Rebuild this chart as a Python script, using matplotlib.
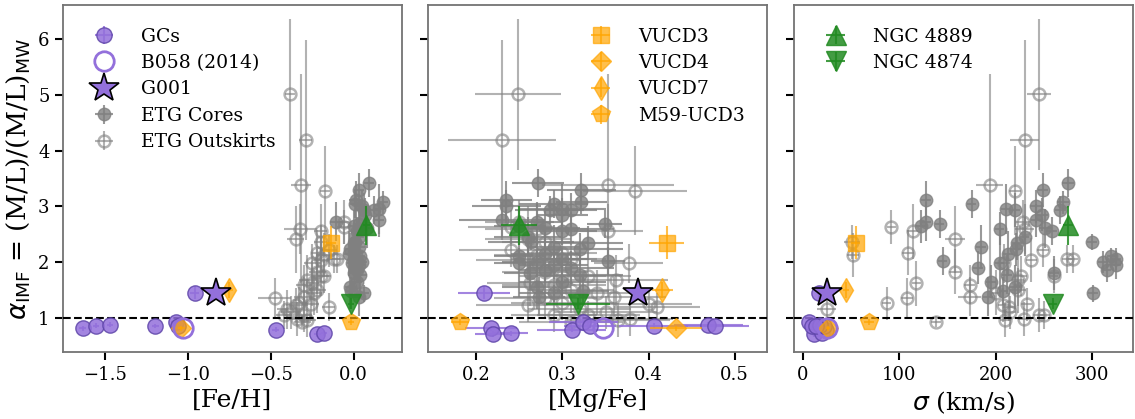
import numpy as np
import matplotlib.pyplot as plt

plt.rcParams['font.family'] = ['DejaVu Serif', 'Liberation Serif']
plt.rcParams['mathtext.fontset'] = 'dejavusans'

# --- globular clusters (M31) ---
gc_alpha = [1.45, 0.81, 0.71, 0.72, 0.79, 0.92, 0.85, 0.86, 0.88, 0.85]
gc_alpha_err = [0.12, 0.05, 0.05, 0.05, 0.05, 0.05, 0.04, 0.05, 0.05, 0.04]
gc_feh = [-0.96, -1.635, -0.22, -0.18, -0.47, -1.07, -1.196, -1.555, -1.47, -1.06]
gc_feh_err = [0.03, 0.02, 0.02, 0.02, 0.02, 0.03, 0.02, 0.02, 0.02, 0.02]
gc_mgfe = [0.209, 0.217, 0.219, 0.240, 0.311, 0.324, 0.332, 0.406, 0.469, 0.477]
gc_mgfe_err = [0.03, 0.03, 0.02, 0.02, 0.04, 0.04, 0.03, 0.04, 0.04, 0.04]
gc_sigma = [17, 15, 12, 20, 24, 7, 10, 22, 18, 14]
gc_sigma_err = [2, 2, 2, 2, 2, 2, 2, 2, 2, 2]

# --- B058 and G001 ---
b058_alpha, b058_feh, b058_mgfe, b058_sigma = 0.81, -1.03, 0.347, 25
g001_alpha, g001_feh, g001_mgfe, g001_sigma = 1.44, -0.83, 0.388, 25

# --- UCDs ---
ucd_names = ['VUCD3', 'VUCD4', 'VUCD7', 'M59-UCD3']
ucd_markers = ['s', 'D', 'd', 'p']
ucd_alpha = [2.35, 0.81, 1.50, 0.93]
ucd_alpha_err = [0.30, 0.05, 0.15, 0.05]
ucd_feh = [-0.136, -1.04, -0.75, -0.016]
ucd_feh_err = [0.03, 0.02, 0.02, 0.02]
ucd_mgfe = [0.421, 0.432, 0.416, 0.181]
ucd_mgfe_err = [0.020, 0.030, 0.012, 0.010]
ucd_sigma = [55, 26, 45, 69]
ucd_sigma_err = [5, 2, 3, 5]

# --- brightest cluster galaxies ---
bcg_names = ['NGC 4889', 'NGC 4874']
bcg_markers = ['^', 'v']
bcg_alpha = [2.66, 1.25]
bcg_alpha_err = [0.35, 0.10]
bcg_feh = [0.075, -0.016]
bcg_feh_err = [0.02, 0.02]
bcg_mgfe = [0.250, 0.318]
bcg_mgfe_err = [0.021, 0.037]
bcg_sigma = [275, 259]
bcg_sigma_err = [5, 5]

# --- ETG cores ---
core_alpha = [3.42, 3.29, 3.11, 3.07, 3.04, 3.00, 2.95, 2.93, 2.93, 2.75, 2.72, 2.69, 2.64,
              2.61, 2.60, 2.55, 2.36, 2.34, 2.27, 2.23, 2.10, 2.05, 2.02, 2.00, 1.98, 1.95,
              1.90, 1.85, 1.80, 1.77, 1.55, 1.48, 1.44, 1.38, 2.45, 2.85, 2.15, 1.65]
core_alpha_err = [0.25, 0.30, 0.35, 0.20, 0.25, 0.30, 0.45, 0.30, 0.25, 0.30, 0.35, 0.25, 0.30,
                  0.35, 0.30, 0.25, 0.15, 0.30, 0.40, 0.30, 0.15, 0.20, 0.25, 0.20, 0.60, 0.25,
                  0.30, 0.20, 0.30, 0.35, 0.40, 0.25, 0.15, 0.35, 0.35, 0.30, 0.40, 0.30]
core_feh = [0.094, 0.034, 0.014, 0.175, 0.010, 0.050, 0.155, 0.060, 0.120, 0.155, -0.106, 0.030,
            0.000, 0.080, 0.040, 0.020, 0.010, 0.000, 0.030, -0.020, 0.040, 0.000, 0.020, 0.050,
            -0.010, 0.030, 0.010, 0.020, 0.000, 0.040, -0.020, -0.016, 0.064, 0.030, 0.030,
            0.070, -0.030, 0.020]
core_feh_err = [0.03, 0.03, 0.04, 0.03, 0.03, 0.03, 0.04, 0.03, 0.03, 0.03, 0.04, 0.03, 0.03,
                0.03, 0.04, 0.03, 0.03, 0.03, 0.04, 0.03, 0.03, 0.03, 0.03, 0.03, 0.03, 0.04,
                0.03, 0.03, 0.03, 0.04, 0.03, 0.03, 0.03, 0.03, 0.03, 0.03, 0.03, 0.03]
core_mgfe = [0.272, 0.322, 0.235, 0.322, 0.290, 0.235, 0.300, 0.310, 0.285, 0.230, 0.270, 0.349,
             0.250, 0.280, 0.310, 0.300, 0.264, 0.330, 0.290, 0.320, 0.250, 0.300, 0.353, 0.270,
             0.250, 0.290, 0.310, 0.280, 0.262, 0.320, 0.270, 0.324, 0.290, 0.273, 0.260, 0.300,
             0.280, 0.300]
core_mgfe_err = [0.03, 0.04, 0.03, 0.03, 0.04, 0.04, 0.05, 0.03, 0.04, 0.05, 0.03, 0.02, 0.03,
                 0.04, 0.05, 0.04, 0.05, 0.04, 0.03, 0.05, 0.03, 0.03, 0.02, 0.04, 0.03, 0.04,
                 0.05, 0.03, 0.03, 0.05, 0.04, 0.03, 0.04, 0.03, 0.04, 0.03, 0.04, 0.05]
core_sigma = [275, 249, 128, 270, 175, 242, 211, 220, 267, 242, 128, 142, 123, 251, 204, 258,
              300, 222, 185, 221, 320, 325, 145, 311, 204, 325, 182, 315, 260, 212, 220, 208,
              301, 192, 230, 248, 213, 195]
core_sigma_err = [6, 5, 5, 6, 5, 6, 5, 5, 6, 5, 5, 5, 6, 6, 5, 6, 5, 5, 5, 6, 5, 5, 5, 5, 5,
                  5, 5, 5, 6, 5, 6, 5, 5, 5, 5, 6, 5, 5]

# --- ETG outskirts ---
out_alpha = [5.01, 4.19, 3.38, 3.28, 2.63, 2.72, 2.59, 2.55, 2.41, 2.36, 2.21, 2.17, 2.13,
             2.06, 2.06, 2.04, 1.98, 1.83, 1.75, 1.67, 1.62, 1.59, 1.49, 1.38, 1.36, 1.26,
             1.24, 1.23, 1.19, 1.15, 1.10, 1.05, 1.05, 0.98, 0.96, 0.93, 1.45, 1.75]
out_alpha_err = [1.35, 1.80, 2.00, 0.80, 0.30, 0.40, 0.45, 0.50, 0.60, 0.30, 0.30, 0.40, 0.40,
                 0.25, 0.25, 0.40, 0.35, 0.40, 0.30, 0.45, 0.40, 0.35, 0.40, 0.35, 0.35, 0.30,
                 0.30, 0.30, 0.25, 0.35, 0.30, 0.30, 0.25, 0.30, 0.30, 0.10, 0.40, 0.35]
out_feh = [-0.385, -0.290, -0.317, -0.176, -0.060, -0.060, -0.322, -0.200, -0.350, -0.200,
           -0.150, -0.220, -0.180, -0.100, -0.120, -0.200, -0.250, -0.220, -0.180, -0.280,
           -0.250, -0.300, -0.220, -0.300, -0.477, -0.330, -0.260, -0.350, -0.150, -0.400,
           -0.380, -0.300, -0.420, -0.340, -0.280, -0.310, -0.240, -0.200]
out_feh_err = [0.03, 0.04, 0.06, 0.03, 0.04, 0.03, 0.10, 0.04, 0.05, 0.04, 0.05, 0.04, 0.05,
               0.04, 0.04, 0.05, 0.05, 0.05, 0.04, 0.05, 0.04, 0.05, 0.05, 0.06, 0.10, 0.05,
               0.05, 0.06, 0.04, 0.06, 0.06, 0.05, 0.05, 0.05, 0.05, 0.05, 0.05, 0.05]
out_mgfe = [0.248, 0.230, 0.353, 0.384, 0.240, 0.250, 0.270, 0.353, 0.260, 0.280, 0.240, 0.300,
            0.270, 0.290, 0.310, 0.260, 0.377, 0.280, 0.330, 0.362, 0.262, 0.290, 0.310, 0.360,
            0.280, 0.300, 0.400, 0.260, 0.410, 0.320, 0.350, 0.290, 0.330, 0.378, 0.365, 0.310,
            0.340, 0.300]
out_mgfe_err = [0.050, 0.063, 0.077, 0.060, 0.050, 0.040, 0.060, 0.040, 0.050, 0.050, 0.060,
                0.040, 0.050, 0.050, 0.040, 0.060, 0.040, 0.050, 0.050, 0.060, 0.050, 0.060,
                0.050, 0.060, 0.060, 0.060, 0.050, 0.060, 0.050, 0.060, 0.060, 0.050, 0.060,
                0.050, 0.060, 0.060, 0.050, 0.050]
out_sigma = [245, 230, 194, 220, 92, 228, 230, 114, 158, 51, 249, 109, 52, 274, 280, 237, 209,
             158, 260, 223, 118, 173, 223, 173, 108, 87, 232, 208, 214, 25, 215, 245, 250, 229,
             210, 138, 200, 226]
out_sigma_err = [12, 15, 14, 6, 5, 8, 10, 6, 10, 8, 6, 6, 6, 5, 5, 6, 6, 6, 5, 6, 5, 6, 8, 12,
                 6, 5, 6, 6, 6, 10, 6, 6, 6, 6, 6, 5, 6, 6]

xkeys = ['feh', 'mgfe', 'sigma']
xlabels = ['[Fe/H]', '[Mg/Fe]', r'$\sigma$ (km/s)']
xlims = [(-1.755, 0.289), (0.1445, 0.538), (-8.6, 342.6)]
xticks = [[-1.5, -1.0, -0.5, 0.0], [0.2, 0.3, 0.4, 0.5], [0, 100, 200, 300]]

data = {
    'gc': {'feh': (gc_feh, gc_feh_err), 'mgfe': (gc_mgfe, gc_mgfe_err), 'sigma': (gc_sigma, gc_sigma_err)},
    'core': {'feh': (core_feh, core_feh_err), 'mgfe': (core_mgfe, core_mgfe_err), 'sigma': (core_sigma, core_sigma_err)},
    'out': {'feh': (out_feh, out_feh_err), 'mgfe': (out_mgfe, out_mgfe_err), 'sigma': (out_sigma, out_sigma_err)},
    'ucd': {'feh': (ucd_feh, ucd_feh_err), 'mgfe': (ucd_mgfe, ucd_mgfe_err), 'sigma': (ucd_sigma, ucd_sigma_err)},
    'bcg': {'feh': (bcg_feh, bcg_feh_err), 'mgfe': (bcg_mgfe, bcg_mgfe_err), 'sigma': (bcg_sigma, bcg_sigma_err)},
}
single = {'feh': (b058_feh, g001_feh), 'mgfe': (b058_mgfe, g001_mgfe), 'sigma': (b058_sigma, g001_sigma)}

purple = 'mediumpurple'
orange = 'orange'
green = 'forestgreen'

fig, axes = plt.subplots(1, 3, figsize=(11.35, 4.19), dpi=100, sharey=True)
fig.subplots_adjust(left=0.0552, right=0.9985, bottom=0.159, top=0.988, wspace=0.079)

for i, ax in enumerate(axes):
    k = xkeys[i]
    x, xe = data['core'][k]
    ax.errorbar(x, core_alpha, xerr=xe, yerr=core_alpha_err, fmt='o', color='gray', ms=9,
                alpha=0.8, elinewidth=1.5, label='ETG Cores', zorder=2)
    x, xe = data['out'][k]
    ax.errorbar(x, out_alpha, xerr=xe, yerr=out_alpha_err, fmt='o', color='gray', mfc='none',
                mec='gray', mew=1.8, ms=8.5, alpha=0.6, elinewidth=1.5, label='ETG Outskirts', zorder=2)
    x, xe = data['gc'][k]
    ax.errorbar(x, gc_alpha, xerr=xe, yerr=gc_alpha_err, fmt='o', color=purple, mec='#5e45a8',
                ms=11, alpha=0.85, elinewidth=1.5, label='GCs', zorder=4)
    for j in range(len(ucd_names)):
        x, xe = data['ucd'][k]
        ax.errorbar(x[j], ucd_alpha[j], xerr=xe[j], yerr=ucd_alpha_err[j], fmt=ucd_markers[j],
                    color=orange, ms=[12, 10, 12, 13][j], alpha=0.7, elinewidth=1.5,
                    label=ucd_names[j], zorder=5)
    for j in range(len(bcg_names)):
        x, xe = data['bcg'][k]
        ax.errorbar(x[j], bcg_alpha[j], xerr=xe[j], yerr=bcg_alpha_err[j], fmt=bcg_markers[j],
                    color=green, ms=15, alpha=0.85, elinewidth=1.5, label=bcg_names[j], zorder=5)
    bx, gx = single[k]
    ax.plot(bx, b058_alpha, 'o', mfc='none', mec=purple, mew=2, ms=14, label='B058 (2014)', zorder=6)
    ax.plot(gx, g001_alpha, '*', mfc=purple, mec='black', mew=1.2, ms=22, label='G001', zorder=6)
    ax.axhline(1, color='black', ls='--', lw=1.5, zorder=3)

    ax.set_xlim(*xlims[i])
    ax.set_xticks(xticks[i])
    ax.set_xlabel(xlabels[i], fontsize=18)
    ax.tick_params(labelsize=13, length=6, width=1.5, direction='out')
    for sp in ax.spines.values():
        sp.set_color('0.45')
        sp.set_linewidth(1.3)

axes[0].set_ylim(0.38, 6.61)
axes[0].set_yticks([1, 2, 3, 4, 5, 6])
axes[0].set_ylabel(r'$\alpha_{\rm IMF}$ = (M/L)/(M/L)$_{\rm MW}$', fontsize=19)

def pick(ax, names):
    h, l = ax.get_legend_handles_labels()
    d = dict(zip(l, h))
    return [d[n] for n in names], names

leg_kw = dict(frameon=False, fontsize=13.5, handletextpad=1.0, borderaxespad=0.8, labelspacing=0.45)
h, l = pick(axes[0], ['GCs', 'B058 (2014)', 'G001', 'ETG Cores', 'ETG Outskirts'])
axes[0].legend(h, l, loc='upper left', **leg_kw)
h, l = pick(axes[1], ucd_names)
axes[1].legend(h, l, loc='upper right', **leg_kw)
h, l = pick(axes[2], bcg_names)
axes[2].legend(h, l, loc='upper left', **leg_kw)

fig.savefig('out.png', dpi=100)
